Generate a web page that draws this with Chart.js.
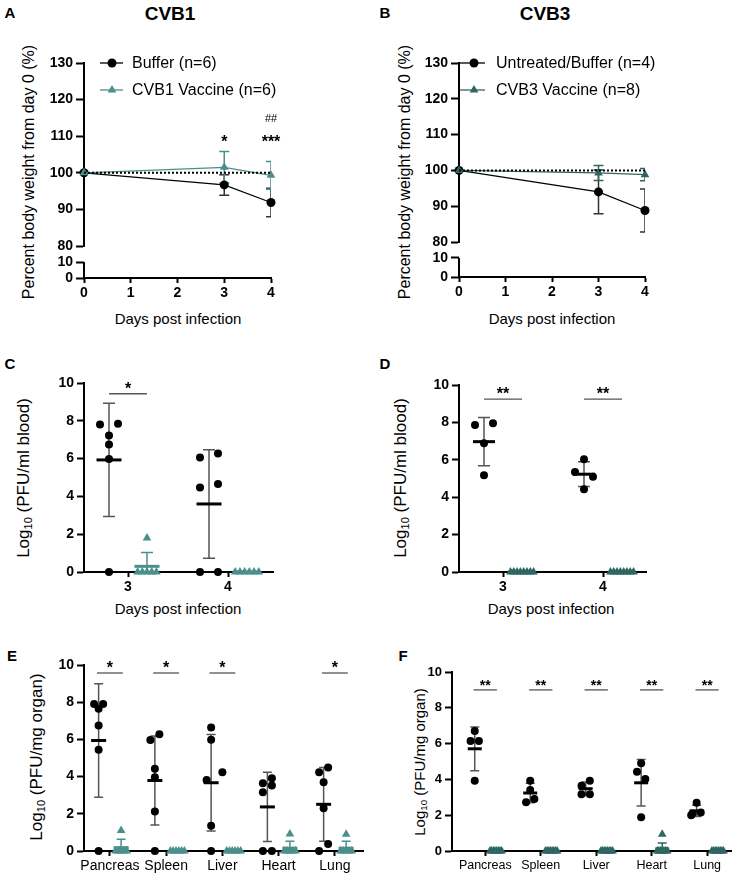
<!DOCTYPE html>
<html>
<head>
<meta charset="utf-8">
<script src="https://cdn.jsdelivr.net/npm/chart.js@4.4.0/dist/chart.umd.min.js"></script>
<style>
  body { margin: 0; background: #fff; }
  #page { position: relative; width: 736px; height: 882px; overflow: hidden;
          font-family: 'Liberation Sans', Arial, sans-serif; color: #000; }
  canvas { position: absolute; }
  .t { position: absolute; white-space: nowrap; transform: translate(-50%, -50%); }
  .lab { font-weight: bold; font-size: 15px; }
  .title { font-weight: bold; font-size: 19px; }
  .xl { font-size: 15px; }
  .yl { font-size: 16px; transform: translate(-50%, -50%) rotate(-90deg); }
  sub { font-size: 0.65em; vertical-align: -0.25em; }
</style>
</head>
<body>
<div id="page">
  <div class="t lab" style="left:10px;top:12px">A</div>
  <div class="t lab" style="left:385px;top:12px">B</div>
  <div class="t title" style="left:170px;top:14px">CVB1</div>
  <div class="t title" style="left:545px;top:14px">CVB3</div>
  <div class="t yl" style="left:29px;top:172px">Percent body weight from day 0 (%)</div>
  <div class="t yl" style="left:405px;top:172px">Percent body weight from day 0 (%)</div>
  <div class="t xl" style="left:178px;top:318px">Days post infection</div>
  <div class="t xl" style="left:552px;top:318px">Days post infection</div>

  <div class="t lab" style="left:10px;top:363px">C</div>
  <div class="t lab" style="left:385px;top:363px">D</div>
  <div class="t yl" style="left:24px;top:478px;font-size:17px">Log<sub>10</sub> (PFU/ml blood)</div>
  <div class="t yl" style="left:401px;top:478px;font-size:17px">Log<sub>10</sub> (PFU/ml blood)</div>
  <div class="t xl" style="left:178px;top:608px">Days post infection</div>
  <div class="t xl" style="left:551px;top:608px">Days post infection</div>

  <div class="t lab" style="left:12px;top:655px">E</div>
  <div class="t lab" style="left:403px;top:655px">F</div>
  <div class="t yl" style="left:37px;top:757px;font-size:17px">Log<sub>10</sub> (PFU/mg organ)</div>
  <div class="t yl" style="left:420px;top:762px;font-size:15px">Log<sub>10</sub> (PFU/mg organ)</div>

  <canvas id="cA"></canvas>
  <canvas id="cB"></canvas>
  <canvas id="cC"></canvas>
  <canvas id="cD"></canvas>
  <canvas id="cE"></canvas>
  <canvas id="cF"></canvas>
</div>
<script>
// ---------- data ----------
const daysA = [0, 3, 4];
const bufferA = [100, 96.7, 91.9];
const bufferSdA = [0, 2.8, 3.9];
const vaccineA = [100, 101.5, 99.3];
const vaccineSdA = [0, 4.3, 3.8];

const daysB = [0, 3, 4];
const bufferB = [100, 94.0, 88.8];
const bufferSdB = [0, 6.1, 6.0];
const vaccineB = [100, 99.3, 98.8];
const vaccineSdB = [0, 2.1, 1.7];

const baseline = 100;

const bloodDays = [3, 4];
const bloodBufferC = [[7.8, 7.85, 7.22, 6.74, 5.98, 0], [6.06, 6.27, 4.47, 4.66, 0, 0]];
const bloodBufferMeanC = [5.93, 3.6];
const bloodBufferSdC = [3.0, 2.87];
const bloodVaccineC = [[1.8, 0, 0, 0, 0, 0], [0, 0, 0, 0, 0, 0]];
const bloodVaccineMeanC = [0.3, 0];
const bloodVaccineSdC = [0.73, 0];

const bloodBufferD = [[7.86, 7.95, 6.88, 5.17], [6.03, 5.35, 5.1, 4.43]];
const bloodBufferMeanD = [6.97, 5.23];
const bloodBufferSdD = [1.29, 0.66];
const bloodVaccineD = [[0, 0, 0, 0, 0, 0, 0, 0], [0, 0, 0, 0, 0, 0, 0, 0]];
const bloodVaccineMeanD = [0, 0];
const bloodVaccineSdD = [0, 0];

const organs = ['Pancreas', 'Spleen', 'Liver', 'Heart', 'Lung'];
const organBufferE = [
  [7.9, 7.9, 7.65, 6.75, 5.44, 0],
  [5.97, 6.28, 4.42, 3.97, 2.12, 0],
  [6.64, 5.98, 4.24, 3.82, 1.36, 0],
  [3.64, 3.91, 3.52, 3.16, 0, 0],
  [4.24, 4.49, 3.7, 2.3, 0.38, 0]
];
const organBufferMeanE = [5.94, 3.79, 3.67, 2.37, 2.51];
const organBufferSdE = [3.05, 2.39, 2.59, 1.86, 1.98];
const organVaccineE = [
  [1.1, 0, 0, 0, 0, 0],
  [0, 0, 0, 0, 0, 0],
  [0, 0, 0, 0, 0, 0],
  [0.92, 0, 0, 0, 0, 0],
  [0.9, 0, 0, 0, 0, 0]
];
const organVaccineMeanE = [0.18, 0, 0, 0.15, 0.15];
const organVaccineSdE = [0.45, 0, 0, 0.38, 0.37];

const organBufferF = [
  [6.7, 6.15, 6.15, 3.93],
  [3.93, 3.41, 2.9, 2.72],
  [3.93, 3.65, 3.17, 3.17],
  [4.9, 4.43, 4.02, 1.88],
  [2.7, 2.15, 2.1, 2.0]
];
const organBufferMeanF = [5.71, 3.24, 3.48, 3.81, 2.24];
const organBufferSdF = [1.22, 0.55, 0.38, 1.3, 0.31];
const organVaccineF = [
  [0, 0, 0, 0, 0, 0, 0, 0],
  [0, 0, 0, 0, 0, 0, 0, 0],
  [0, 0, 0, 0, 0, 0, 0, 0],
  [0.93, 0, 0, 0, 0, 0, 0, 0],
  [0, 0, 0, 0, 0, 0, 0, 0]
];
const organVaccineMeanF = [0, 0, 0, 0.12, 0];
const organVaccineSdF = [0, 0, 0, 0.33, 0];

// ---------- styling ----------
Chart.defaults.font.family = "'Liberation Sans', Arial, sans-serif";
Chart.defaults.color = '#000';
Chart.defaults.animation = false;

const BLACK = '#000';
const TEAL = '#4b8f8c';
const DTEAL = '#2f6662';
const ERR = '#555';

const L = 60, T = 20, B = 30;

function place(id, area, padR) {
  const c = document.getElementById(id);
  c.style.left = (area.l - L) + 'px';
  c.style.top = (area.t - T) + 'px';
  c.width = area.r - area.l + L + padR;
  c.height = area.b - area.t + T + B;
  return c;
}

function axisGrid() {
  return { drawOnChartArea: false, drawTicks: true, tickLength: 6, tickWidth: 2, tickColor: BLACK };
}

// error bars + mean lines from group specs
function groupPlugin(groups) {
  return {
    id: 'groups',
    beforeDatasetsDraw(chart) {
      const { ctx, chartArea: a, scales } = chart;
      ctx.save();
      ctx.beginPath();
      ctx.rect(a.left, a.top - 2, a.right - a.left, a.bottom - a.top + 1);
      ctx.clip();
      groups.forEach(g => {
        const ys = scales.y;
        g.xs.forEach((x, i) => {
          if (!g.sds[i]) return;
          const px = scales.x.getPixelForValue(x);
          const top = ys.getPixelForValue(g.means[i] + g.sds[i]);
          const bot = ys.getPixelForValue(g.means[i] - g.sds[i]);
          ctx.strokeStyle = g.errColor;
          ctx.lineWidth = g.errW;
          ctx.beginPath();
          ctx.moveTo(px, top); ctx.lineTo(px, bot);
          ctx.moveTo(px - g.capW / 2, top); ctx.lineTo(px + g.capW / 2, top);
          ctx.moveTo(px - g.capW / 2, bot); ctx.lineTo(px + g.capW / 2, bot);
          ctx.stroke();
        });
      });
      ctx.restore();
    },
    afterDatasetsDraw(chart) {
      const { ctx, scales } = chart;
      ctx.save();
      groups.forEach(g => {
        if (!g.meanW) return;
        g.xs.forEach((x, i) => {
          const px = scales.x.getPixelForValue(x);
          const py = scales.y.getPixelForValue(g.means[i]);
          ctx.strokeStyle = g.meanColor;
          ctx.lineWidth = 3;
          ctx.beginPath();
          ctx.moveTo(px - g.meanW / 2, py); ctx.lineTo(px + g.meanW / 2, py);
          ctx.stroke();
        });
      });
      ctx.restore();
    }
  };
}

// significance marks
function sigPlugin(marks) {
  return {
    id: 'sig',
    afterDraw(chart) {
      const { ctx, scales } = chart;
      ctx.save();
      marks.forEach(m => {
        const x1 = scales.x.getPixelForValue(m.x1);
        const x2 = scales.x.getPixelForValue(m.x2);
        const py = scales.y.getPixelForValue(m.y);
        if (m.x2 !== m.x1) {
          ctx.strokeStyle = ERR;
          ctx.lineWidth = 1.3;
          ctx.beginPath();
          ctx.moveTo(x1, py); ctx.lineTo(x2, py);
          ctx.stroke();
        }
        ctx.fillStyle = BLACK;
        ctx.font = m.font;
        ctx.textAlign = 'center';
        ctx.textBaseline = 'alphabetic';
        ctx.fillText(m.text, (x1 + x2) / 2, py);
      });
      ctx.restore();
    }
  };
}

// broken axis: draw the short lower axis segment 0..10
const lowerAxisPlugin = {
  id: 'lowerAxis',
  afterDraw(chart) {
    const { ctx, chartArea: a, scales } = chart;
    const s = scales.y2;
    ctx.save();
    ctx.strokeStyle = BLACK;
    ctx.lineWidth = 2;
    ctx.beginPath();
    ctx.moveTo(a.left, s.getPixelForValue(0) + 1);
    ctx.lineTo(a.left, s.getPixelForValue(10));
    ctx.stroke();
    ctx.restore();
  }
};

function legendPlugin(items, off) {
  return {
    id: 'leg',
    afterDraw(chart) {
      const { ctx, chartArea: a } = chart;
      ctx.save();
      items.forEach((it, i) => {
        const y = a.top + i * 27;
        ctx.strokeStyle = it.color;
        ctx.lineWidth = 1.3;
        ctx.beginPath();
        ctx.moveTo(a.left + off.l1, y); ctx.lineTo(a.left + off.l2, y);
        ctx.stroke();
        ctx.fillStyle = it.color;
        Chart.helpers.drawPoint(ctx, { pointStyle: it.style, radius: it.style === 'triangle' ? 5 : 4.5, rotation: 0, borderWidth: 0 }, a.left + off.m, y);
        ctx.fillStyle = BLACK;
        ctx.font = '16px ' + Chart.defaults.font.family;
        ctx.textAlign = 'left';
        ctx.textBaseline = 'middle';
        ctx.fillText(it.label, a.left + off.t, y + 1);
      });
      ctx.restore();
    }
  };
}

// ---------- weight charts (A, B) ----------
function weightChart(id, area, padR, days, buf, bufSd, vac, vacSd, vacColor, y2max, wTop, wBot, marks, legItems, legOff) {
  const c = place(id, area, padR);
  const pts = arr => days.map((d, i) => ({ x: d, y: arr[i] }));
  return new Chart(c, {
    type: 'scatter',
    data: {
      datasets: [
        { data: [{ x: days[0], y: baseline }, { x: days[days.length - 1], y: baseline }], showLine: true,
          borderColor: BLACK, borderWidth: 2, borderDash: [2, 2], pointRadius: 0, yAxisID: 'y' },
        { data: pts(vac), showLine: true, borderColor: vacColor, borderWidth: 1.3, pointStyle: 'triangle',
          pointRadius: 5, backgroundColor: vacColor, pointBorderWidth: 0, yAxisID: 'y', clip: false },
        { data: pts(buf), showLine: true, borderColor: BLACK, borderWidth: 1.2, pointStyle: 'circle',
          pointRadius: 4.5, backgroundColor: BLACK, pointBorderWidth: 0, yAxisID: 'y', clip: false }
      ]
    },
    options: {
      responsive: false,
      layout: { padding: { top: T, right: padR, left: 0, bottom: 0 } },
      plugins: { legend: { display: false }, tooltip: { enabled: false } },
      scales: {
        x: { type: 'linear', min: 0, max: 4,
             ticks: { stepSize: 1, font: { size: 14, weight: 'bold' }, padding: 2 },
             grid: Object.assign(axisGrid(), { tickLength: 5 }),
             border: { color: BLACK, width: 2 },
             afterFit: s => { s.height = B; } },
        // lower segment of the broken axis (listed first so it stacks below)
        y2: { type: 'linear', position: 'left', stack: 'w', stackWeight: wBot, min: 0, max: y2max,
              afterBuildTicks: s => { s.ticks = [{ value: 0 }, { value: 10 }]; },
              ticks: { font: { size: 14, weight: 'bold' }, padding: 3, autoSkip: false },
              grid: Object.assign(axisGrid(), { tickLength: 8 }),
              border: { display: false },
              afterFit: s => { s.width = L; } },
        y: { type: 'linear', position: 'left', stack: 'w', stackWeight: wTop, min: 80, max: 130,
             ticks: { stepSize: 10, font: { size: 14, weight: 'bold' }, padding: 3, autoSkip: false },
             grid: Object.assign(axisGrid(), { tickLength: 8 }),
             border: { color: BLACK, width: 2 },
             afterFit: s => { s.width = L; } }
      }
    },
    plugins: [
      groupPlugin([
        { xs: days, means: buf, sds: bufSd, errColor: '#333', errW: 1.5, capW: 10 },
        { xs: days, means: vac, sds: vacSd, errColor: vacColor, errW: 1.5, capW: 10 }
      ]),
      sigPlugin(marks), lowerAxisPlugin, legendPlugin(legItems, legOff)
    ]
  });
}

weightChart('cA', { l: 84, t: 63, r: 271, b: 278 }, 80, daysA, bufferA, bufferSdA, vaccineA, vaccineSdA, TEAL,
  20, 183, 32,
  [{ x1: 3, x2: 3, y: 107, text: '*', font: 'bold 16px Liberation Sans' },
   { x1: 4, x2: 4, y: 107, text: '***', font: 'bold 16px Liberation Sans' },
   { x1: 4, x2: 4, y: 113.9, text: '##', font: '11px Liberation Sans' }],
  [{ label: 'Buffer (n=6)', color: BLACK, style: 'circle' },
   { label: 'CVB1 Vaccine (n=6)', color: TEAL, style: 'triangle' }],
  { l1: 16, l2: 39, m: 28, t: 48 });

weightChart('cB', { l: 459, t: 63, r: 645, b: 277 }, 88, daysB, bufferB, bufferSdB, vaccineB, vaccineSdB, DTEAL,
  18.4, 179, 35, [],
  [{ label: 'Untreated/Buffer (n=4)', color: BLACK, style: 'circle' },
   { label: 'CVB3 Vaccine (n=8)', color: DTEAL, style: 'triangle' }],
  { l1: 1, l2: 26, m: 15, t: 37 });

// ---------- dot plots (C-F) ----------
function evenJit(n) {
  return Array.from({ length: n }, (_, i) => i - (n - 1) / 2);
}

function dotChart(id, area, padR, cats, xmin, xmax, off, buf, bufMean, bufSd, bufJit, bufStep,
                  vac, vacMean, vacSd, vacJit, vacStep, vacColor, st, marks, tickFont, catFont, labels) {
  const c = place(id, area, padR);
  const datasets = [];
  cats.forEach((cat, g) => {
    datasets.push({
      data: buf[g].map((v, i) => ({ x: cat - off + bufJit[g][i] * bufStep, y: v })),
      pointStyle: 'circle', pointRadius: st.r, backgroundColor: BLACK, pointBorderWidth: 0, clip: false
    });
    datasets.push({
      data: vac[g].map((v, i) => ({ x: cat + off + vacJit[g][i] * vacStep, y: v })),
      pointStyle: 'triangle', pointRadius: st.tr, backgroundColor: vacColor, pointBorderWidth: 0, clip: false
    });
  });
  return new Chart(c, {
    type: 'scatter',
    data: { datasets },
    options: {
      responsive: false,
      layout: { padding: { top: T, right: padR, left: 0, bottom: 0 } },
      plugins: { legend: { display: false }, tooltip: { enabled: false } },
      scales: {
        x: { type: 'linear', min: xmin, max: xmax,
             afterBuildTicks: s => { s.ticks = cats.map(v => ({ value: v })); },
             ticks: { font: catFont, padding: 2, autoSkip: false, maxRotation: 0,
                      callback: v => labels ? labels[cats.indexOf(v)] : String(v) },
             grid: Object.assign(axisGrid(), { tickLength: 5 }),
             border: { color: BLACK, width: 2 },
             afterFit: s => { s.height = B; } },
        y: { type: 'linear', position: 'left', min: 0, max: 10,
             ticks: { stepSize: 2, font: tickFont, padding: 3 },
             grid: Object.assign(axisGrid(), { tickLength: 7 }),
             border: { color: BLACK, width: 2 },
             afterFit: s => { s.width = L; } }
      }
    },
    plugins: [
      groupPlugin([
        { xs: cats.map(v => v - off), means: bufMean, sds: bufSd, errColor: ERR, errW: 1.5, capW: st.cap,
          meanColor: BLACK, meanW: st.mw },
        { xs: cats.map(v => v + off), means: vacMean, sds: vacSd, errColor: vacColor, errW: 1.5, capW: st.cap,
          meanColor: vacColor, meanW: st.mw }
      ]),
      sigPlugin(marks)
    ]
  });
}

const F16 = 'bold 16px Liberation Sans';
const F14 = 'bold 14px Liberation Sans';

dotChart('cC', { l: 84, t: 383, r: 273, b: 572 }, 20, bloodDays, 2.56, 4.45, 0.19,
  bloodBufferC, bloodBufferMeanC, bloodBufferSdC, [[-1, 1, 0, 0, 0, 0], [-1, 1, -1, 1, -1, 1]], 0.09,
  bloodVaccineC, bloodVaccineMeanC, bloodVaccineSdC, [[0, -2, -1, 0, 1, 2], evenJit(6)], 0.047, TEAL,
  { r: 4, tr: 5, cap: 12, mw: 25 },
  [{ x1: 3 - 0.19, x2: 3 + 0.19, y: 9.43, text: '*', font: F16 }],
  { size: 14, weight: 'bold' }, { size: 14, weight: 'bold' });

dotChart('cD', { l: 459, t: 385, r: 646, b: 572 }, 20, bloodDays, 2.56, 4.43, 0.19,
  bloodBufferD, bloodBufferMeanD, bloodBufferSdD, [[-1, 1, 0, 0], [0, -1, 1, 0]], 0.09,
  bloodVaccineD, bloodVaccineMeanD, bloodVaccineSdD, [evenJit(8), evenJit(8)], 0.033, DTEAL,
  { r: 4, tr: 5, cap: 12, mw: 22 },
  [{ x1: 3 - 0.19, x2: 3 + 0.19, y: 9.25, text: '**', font: F16 },
   { x1: 4 - 0.19, x2: 4 + 0.19, y: 9.25, text: '**', font: F16 }],
  { size: 14, weight: 'bold' }, { size: 14, weight: 'bold' });

const organX = [1, 2, 3, 4, 5];
dotChart('cE', { l: 84, t: 665, r: 363, b: 851 }, 6, organX, 0.54, 5.5, 0.2,
  organBufferE, organBufferMeanE, organBufferSdE,
  [[-1, 1, 0, 0, 0, 0], [-1, 1, 0, 0, 0, 0], [0, 0, 2.5, -1, 0, 0], [-1, 1, 1, -1, -1, 1], [-1, 1, 0, 0, 1, -1]], 0.08,
  organVaccineE, organVaccineMeanE, organVaccineSdE,
  [[0, -2, -1, 0, 1, 2], evenJit(6), evenJit(6), [0, -2, -1, 0, 1, 2], [0, -2, -1, 0, 1, 2]], 0.05, TEAL,
  { r: 4, tr: 5, cap: 9, mw: 15 },
  [1, 2, 3, 5].map(k => ({ x1: k - 0.23, x2: k + 0.23, y: 9.57, text: '*', font: F16 })),
  { size: 14, weight: 'bold' }, { size: 14 }, organs);

dotChart('cF', { l: 452, t: 672, r: 731, b: 851 }, 5, organX, 0.4, 5.43, 0.19,
  organBufferF, organBufferMeanF, organBufferSdF,
  [[0, -1, 1, 0], [0, 0, 1, -1], [1, -1, -1, 1], [0, -1, 1, 0], [0, 1, -1, -1.3]], 0.075,
  organVaccineF, organVaccineMeanF, organVaccineSdF,
  [evenJit(8), evenJit(8), evenJit(8), [0, -3, -2, -1, 0, 1, 2, 3], evenJit(8)], 0.03, DTEAL,
  { r: 4, tr: 5, cap: 9, mw: 14 },
  organX.map(k => ({ x1: k - 0.21, x2: k + 0.21, y: 9.0, text: '**', font: F14 })),
  { size: 13, weight: 'bold' }, { size: 12.5 }, organs);
</script>
</body>
</html>
